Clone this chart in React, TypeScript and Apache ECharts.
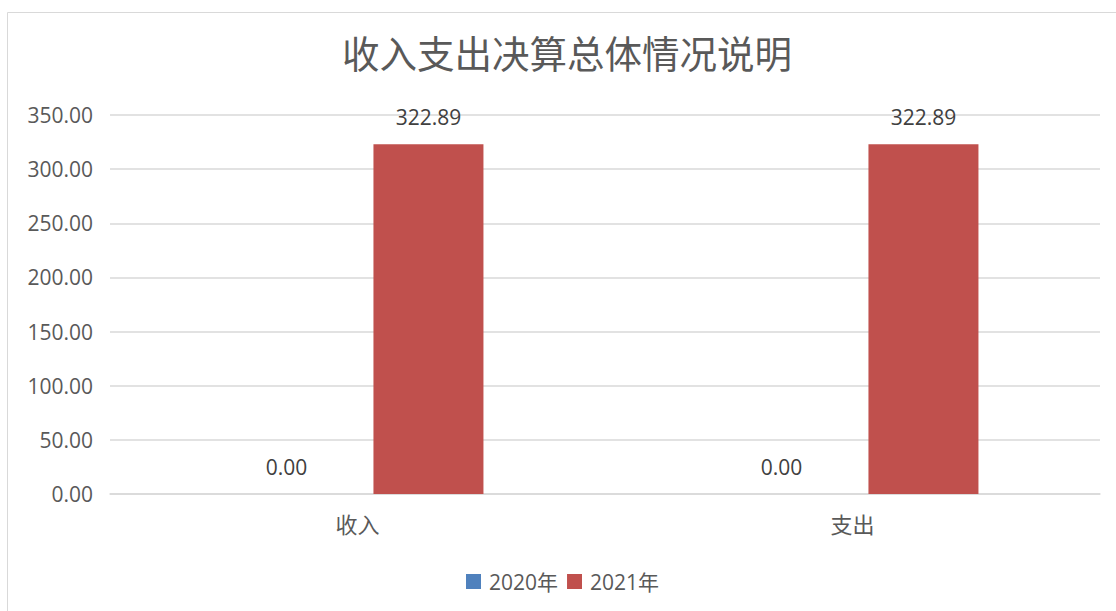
import React, { useEffect, useRef } from "react";
import * as echarts from "echarts";

const categories = ["收入", "支出"];
const series2020 = [0, 0];
const series2021 = [322.89, 322.89];
const seriesNames = ["2020年", "2021年"];
const titleText = "收入支出决算总体情况说明";

export default function App() {
  const ref = useRef<HTMLDivElement>(null);
  useEffect(() => {
    document.body.style.margin = "0";
    const chart = echarts.init(ref.current!, undefined, { renderer: "svg" });
    const font = "'Open Sans', 'Noto Sans CJK SC', sans-serif";
    chart.setOption({
      animation: false,
      backgroundColor: "#ffffff",
      title: {
        text: titleText,
        left: 337,
        top: 28,
        textStyle: {
          fontFamily: "'Noto Sans CJK SC', sans-serif",
          fontSize: 37.5,
          fontWeight: "normal",
          color: "#595959",
        },
      },
      graphic: [
        {
          type: "rect",
          shape: { x: 7.5, y: 12.5, width: 1200, height: 700 },
          style: { fill: "none", stroke: "#D9D9D9", lineWidth: 1 },
          silent: true,
          z: -1,
        },
      ],
      legend: {
        bottom: 14,
        left: 461,
        itemWidth: 15,
        itemHeight: 15,
        itemGap: 9,
        icon: "rect",
        textStyle: {
          fontFamily: font,
          fontSize: 21,
          color: "#595959",
          padding: [0, 0, 0, 3],
        },
        data: seriesNames,
      },
      grid: { left: 110, right: 16, top: 115, bottom: 117, containLabel: false },
      xAxis: {
        type: "category",
        data: categories,
        axisLine: { lineStyle: { color: "#D9D9D9", width: 1.5 } },
        axisTick: { show: false },
        axisLabel: {
          fontFamily: "'Noto Sans CJK SC', sans-serif",
          fontSize: 22,
          color: "#595959",
          margin: 18,
        },
      },
      yAxis: {
        type: "value",
        min: 0,
        max: 350,
        interval: 50,
        axisLine: { show: false },
        axisTick: { show: false },
        splitLine: { lineStyle: { color: "#D9D9D9", width: 1.5 } },
        axisLabel: {
          fontFamily: font,
          fontSize: 21,
          color: "#595959",
          margin: 17,
          formatter: (v: number) => v.toFixed(2),
        },
      },
      series: [
        {
          name: seriesNames[0],
          type: "bar",
          data: series2020,
          barWidth: 110,
          barGap: "29%",
          itemStyle: { color: "#4F81BD" },
          label: {
            show: true,
            position: "top",
            distance: 17,
            fontFamily: font,
            fontSize: 21,
            color: "#404040",
            formatter: (p: any) => Number(p.value).toFixed(2),
          },
        },
        {
          name: seriesNames[1],
          type: "bar",
          data: series2021,
          barWidth: 110,
          itemStyle: { color: "#C0504D" },
          label: {
            show: true,
            position: "top",
            distance: 17,
            fontFamily: font,
            fontSize: 21,
            color: "#404040",
            formatter: (p: any) => Number(p.value).toFixed(2),
          },
        },
      ],
    });
    return () => chart.dispose();
  }, []);
  return <div ref={ref} style={{ width: 1116, height: 611 }} />;
}
